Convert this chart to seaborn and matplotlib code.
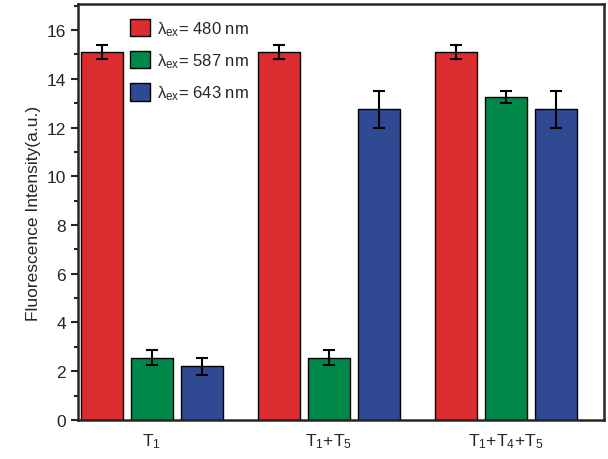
import numpy as np
import pandas as pd
import matplotlib
matplotlib.use("Agg")
import matplotlib.pyplot as plt
import seaborn as sns
from matplotlib.ticker import MultipleLocator

# data
samples = ["T$_1$", "T$_1$+T$_5$", "T$_1$+T$_4$+T$_5$"]
series = [r"λ$_{\mathrm{ex}}$= 480 nm", r"λ$_{\mathrm{ex}}$= 587 nm", r"λ$_{\mathrm{ex}}$= 643 nm"]
red_vals = [15.1, 15.1, 15.1]
green_vals = [2.55, 2.55, 13.25]
blue_vals = [2.2, 12.75, 12.75]
red_err = [0.3, 0.3, 0.3]
green_err = [0.3, 0.3, 0.25]
blue_err = [0.35, 0.75, 0.75]
colors = ["#DB2D30", "#00884A", "#2F4A92"]

sns.set_style("ticks")
plt.rcParams["font.family"] = ["Liberation Sans", "DejaVu Sans"]
plt.rcParams["mathtext.fontset"] = "custom"
plt.rcParams["mathtext.rm"] = "Liberation Sans"
plt.rcParams["mathtext.it"] = "Liberation Sans:italic"

df = pd.DataFrame({
    "sample": samples * 3,
    "series": [series[0]] * 3 + [series[1]] * 3 + [series[2]] * 3,
    "value": red_vals + green_vals + blue_vals,
})
errs = red_err + green_err + blue_err

fig = plt.figure(figsize=(6.08, 4.60), dpi=100)
ax = fig.add_axes([0.128, 0.085, 0.865, 0.904])

sns.barplot(data=df, x="sample", y="value", hue="series", palette=colors,
            width=0.846, gap=0.16, edgecolor="black", linewidth=1.0,
            saturation=1, errorbar=None, ax=ax)

# error bars at bar centres
bars = [p for p in ax.patches if p.get_height() > 0][:9]
xs = [p.get_x() + p.get_width() / 2 for p in bars]
hs = [p.get_height() for p in bars]
ax.errorbar(xs, hs, yerr=errs, fmt="none", ecolor="black", elinewidth=1.5,
            capsize=4, capthick=1.5)

ax.set_ylim(0, 17.07)
ax.set_xlim(-0.418, 2.553)
ax.yaxis.set_major_locator(MultipleLocator(2))
ax.yaxis.set_minor_locator(MultipleLocator(1))
ax.tick_params(axis="y", which="major", direction="out", length=5, width=1.5, labelsize=12.5)
ax.tick_params(axis="y", which="minor", direction="out", length=3, width=1.5)
ax.tick_params(axis="x", length=0, pad=8, labelsize=12.5)
ax.set_xlabel("")
ax.set_ylabel("Fluorescence Intensity(a.u.)", fontsize=12.5)
for s in ax.spines.values():
    s.set_visible(True)
    s.set_linewidth(1.8)

ax.legend(loc="upper left", bbox_to_anchor=(0.099, 0.964), frameon=False,
          fontsize=12, handlelength=1.2, handleheight=1.2, handletextpad=0.4,
          labelspacing=0.8, borderpad=0, borderaxespad=0)

fig.savefig("out.png", dpi=100)
